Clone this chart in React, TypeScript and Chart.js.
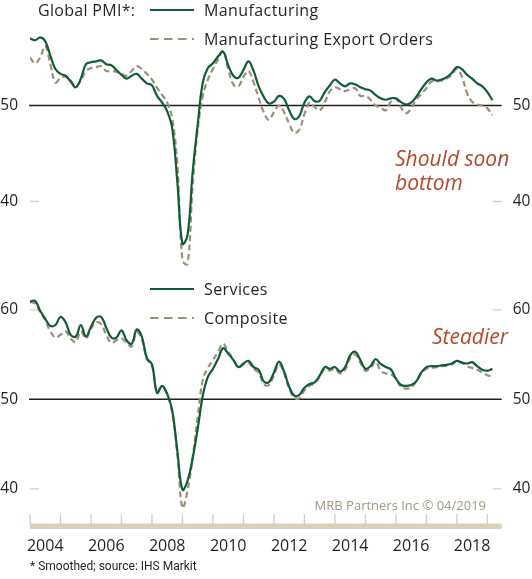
import React, { useEffect, useRef } from "react";
import { Chart, registerables } from "chart.js";

Chart.register(...registerables);

// Bimonthly observations starting January 2004 (last point: March 2019)
const FIRST_YEAR = 2004;
const MONTH_STEP = 2;

const MANUFACTURING = [
  57.0, 56.8, 57.1, 56.7, 55.2, 53.8, 53.3, 53.1, 52.5, 51.9,
  52.8, 54.3, 54.5, 54.6, 54.7, 54.3, 54.2, 53.7, 53.2, 52.8,
  53.1, 53.3, 52.8, 52.3, 52.1, 51.0, 50.3, 49.4, 47.6, 42.0,
  35.6, 36.5, 43.0, 48.0, 52.4, 53.9, 54.4, 55.1, 55.6, 54.2,
  53.1, 52.9, 53.7, 54.6, 53.6, 52.0, 50.9, 50.2, 50.4, 51.0,
  50.7, 49.5, 48.6, 48.9, 50.3, 50.95, 50.45, 50.5, 51.4, 52.1,
  52.7, 52.3, 52.0, 52.3, 52.2, 51.9, 51.7, 51.55, 51.1, 50.75,
  50.6, 50.75, 50.75, 50.35, 50.1, 50.3, 50.9, 51.7, 52.4, 52.8,
  52.6, 52.7, 52.95, 53.4, 54.0, 53.8, 53.2, 52.8, 52.3, 52.0,
  51.4, 50.55,
];

const EXPORT_ORDERS = [
  55.0, 54.4, 55.0, 56.2, 54.3, 52.4, 52.9, 53.0, 52.6, 52.0,
  52.6, 53.6, 53.9, 54.0, 54.1, 53.6, 53.6, 53.5, 53.3, 53.1,
  53.6, 54.1, 53.8, 53.3, 52.7, 51.85, 51.1, 50.3, 48.6, 43.8,
  33.9, 33.5, 41.6, 47.5, 51.0, 52.7, 53.8, 54.8, 55.7, 53.8,
  52.2, 52.0, 53.0, 53.6, 52.4, 50.8, 49.3, 48.5, 49.3, 50.0,
  49.3, 48.1, 47.15, 47.5, 49.1, 50.3, 49.85, 49.5, 50.3, 51.5,
  51.9, 51.7, 51.5, 51.7, 51.8, 51.0, 51.0, 50.6, 50.0, 49.8,
  49.5, 50.4, 50.7, 49.8, 49.2, 49.7, 50.6, 51.2, 51.8, 52.5,
  52.5, 52.6, 52.8, 53.2, 53.8, 53.0, 51.3, 50.4, 50.1, 50.0,
  49.7, 49.0,
];

const SERVICES = [
  60.9, 61.0, 59.9, 59.0, 58.2, 58.3, 59.2, 58.6, 57.2, 57.0,
  58.3, 57.0, 58.1, 59.1, 59.2, 58.0, 56.9, 56.9, 57.7, 56.6,
  56.2, 57.8, 57.0, 54.6, 53.9, 50.7, 51.5, 50.6, 48.7, 44.2,
  39.9, 40.9, 43.4, 46.7, 50.4, 52.5, 53.4, 54.5, 55.7, 55.1,
  54.4, 53.6, 54.0, 54.3, 53.6, 53.3, 52.0, 51.9, 53.0, 54.2,
  53.1, 51.4, 50.4, 50.5, 51.3, 51.7, 51.9, 52.65, 53.6, 53.4,
  53.6, 53.1, 53.6, 54.9, 55.3, 54.4, 53.4, 53.7, 54.5, 53.95,
  53.6, 53.35, 52.3, 51.6, 51.5, 51.6, 52.0, 53.0, 53.6, 53.7,
  53.7, 53.8, 53.85, 54.0, 54.3, 54.1, 54.0, 54.15, 53.7, 53.3,
  53.2, 53.4,
];

const COMPOSITE = [
  60.9, 60.7, 59.8, 58.8, 57.6, 56.9, 57.2, 57.6, 56.8, 56.4,
  57.6, 56.8, 57.9, 58.6, 58.4, 57.2, 56.3, 56.6, 56.8, 56.3,
  55.9, 57.5, 56.7, 54.5, 53.8, 50.8, 51.4, 50.5, 48.5, 43.8,
  37.9, 39.8, 43.5, 48.0, 52.2, 53.5, 54.4, 55.3, 56.2, 55.3,
  54.5, 53.6, 53.9, 54.1, 53.4, 53.0, 51.7, 51.6, 52.7, 53.9,
  52.9, 51.2, 50.2, 50.1, 51.0, 51.5, 51.8, 52.5, 53.4, 53.2,
  53.4, 52.9, 53.3, 54.6, 55.0, 54.1, 53.2, 53.5, 54.2, 53.2,
  52.9, 52.8, 52.3, 51.4, 51.2, 51.3, 52.0, 52.9, 53.4, 53.5,
  53.6, 53.7, 53.75, 53.9, 54.2, 54.1, 53.7, 53.5, 53.3, 53.0,
  52.7, 52.5,
];

const YEAR_LABELS = [2004, 2006, 2008, 2010, 2012, 2014, 2016, 2018];
const YEAR_TICKS = [2004, 2005, 2006, 2007, 2008, 2009, 2010, 2011, 2012, 2013, 2014, 2015, 2016, 2017, 2018, 2019];
const TOP_TICKS = [40, 50];
const BOTTOM_TICKS = [40, 50, 60];
const REFERENCE = 50;

const DATES = MANUFACTURING.map((_, i) => FIRST_YEAR + (i * MONTH_STEP) / 12);

const GREEN = "#0f5d37";
const TAN = "#9c8f75";
const BAND = "#d8d1bf";
const INK = "#231f20";
const ACCENT = "#b5482b";
const FONT = '"Open Sans", sans-serif';

const toPoints = (values: number[]) => values.map((y, i) => ({ x: DATES[i], y }));

const panelPlugin = {
  id: "panels",
  beforeDatasetsDraw(chart: any) {
    const { ctx, chartArea } = chart;
    const { left, right, bottom } = chartArea;
    const xs = chart.scales.x;
    ctx.save();
    // x-axis band with yearly ticks
    ctx.fillStyle = BAND;
    ctx.fillRect(left, bottom - 5.5, right - left, 5.5);
    ctx.strokeStyle = BAND;
    ctx.lineWidth = 1.4;
    YEAR_TICKS.forEach((yr) => {
      const px = xs.getPixelForValue(yr);
      ctx.beginPath();
      ctx.moveTo(px, bottom - 15);
      ctx.lineTo(px, bottom - 5);
      ctx.stroke();
    });
    const panels: [string, number[]][] = [
      ["yTop", TOP_TICKS],
      ["yBot", BOTTOM_TICKS],
    ];
    ctx.font = `15.5px ${FONT}`;
    ctx.textBaseline = "middle";
    panels.forEach(([id, ticks]) => {
      const s = chart.scales[id];
      ticks.forEach((v) => {
        const py = s.getPixelForValue(v);
        if (v === REFERENCE) {
          ctx.strokeStyle = INK;
          ctx.lineWidth = 1.6;
          ctx.beginPath();
          ctx.moveTo(left - 1, py);
          ctx.lineTo(right, py);
          ctx.stroke();
        } else {
          ctx.strokeStyle = BAND;
          ctx.lineWidth = 1.3;
          ctx.beginPath();
          ctx.moveTo(left, py);
          ctx.lineTo(left + 9, py);
          ctx.moveTo(right - 9, py);
          ctx.lineTo(right, py);
          ctx.stroke();
        }
        ctx.fillStyle = INK;
        ctx.textAlign = "right";
        ctx.fillText(String(v), left - 12, py);
        ctx.textAlign = "left";
        ctx.fillText(String(v), right + 11, py);
      });
    });
    ctx.restore();
  },
};

function LegendLine({ top, dashed }: { top: number; dashed?: boolean }) {
  return (
    <svg
      width={44}
      height={6}
      style={{ position: "absolute", left: 150, top: top - 3 }}
    >
      <line
        x1={0}
        y1={3}
        x2={44}
        y2={3}
        stroke={dashed ? TAN : GREEN}
        strokeWidth={2.2}
        strokeDasharray={dashed ? "8.5 5.5" : undefined}
      />
    </svg>
  );
}

function Label({
  text,
  center,
  left,
  right,
  size = 16,
  color = INK,
  italic,
  family = FONT,
  spacing = 0,
}: {
  text: string;
  center: number;
  left?: number;
  right?: number;
  size?: number;
  color?: string;
  italic?: boolean;
  family?: string;
  spacing?: number;
}) {
  return (
    <div
      style={{
        position: "absolute",
        top: center - 12,
        left,
        right: right !== undefined ? 532 - right : undefined,
        lineHeight: "24px",
        fontSize: size,
        fontFamily: family,
        fontStyle: italic ? "italic" : "normal",
        letterSpacing: spacing,
        color,
        whiteSpace: "nowrap",
      }}
    >
      {text}
    </div>
  );
}

export default function App() {
  const ref = useRef<HTMLCanvasElement>(null);

  useEffect(() => {
    if (!ref.current) return;
    const chart = new Chart(ref.current, {
      type: "line",
      data: {
        datasets: [
          {
            label: "Manufacturing",
            data: toPoints(MANUFACTURING),
            yAxisID: "yTop",
            borderColor: GREEN,
            borderWidth: 2.2,
            pointRadius: 0,
            tension: 0.4,
            order: 1,
          },
          {
            label: "Manufacturing Export Orders",
            data: toPoints(EXPORT_ORDERS),
            yAxisID: "yTop",
            borderColor: TAN,
            borderWidth: 2.2,
            borderDash: [6, 3.5],
            pointRadius: 0,
            tension: 0.4,
            order: 2,
          },
          {
            label: "Services",
            data: toPoints(SERVICES),
            yAxisID: "yBot",
            borderColor: GREEN,
            borderWidth: 2.2,
            pointRadius: 0,
            tension: 0.4,
            order: 1,
          },
          {
            label: "Composite",
            data: toPoints(COMPOSITE),
            yAxisID: "yBot",
            borderColor: TAN,
            borderWidth: 2.2,
            borderDash: [6, 3.5],
            pointRadius: 0,
            tension: 0.4,
            order: 2,
          },
        ],
      },
      options: {
        animation: false,
        responsive: false,
        layout: { padding: { left: 30, right: 30.3, top: 0, bottom: 0 } },
        plugins: { legend: { display: false }, tooltip: { enabled: false } },
        scales: {
          x: {
            type: "linear",
            min: 2004,
            max: 2019.47,
            afterBuildTicks: (s: any) => {
              s.ticks = YEAR_LABELS.map((y) => ({ value: y + 0.5 }));
            },
            afterFit: (s: any) => {
              s.height = 50;
            },
            ticks: {
              autoSkip: false,
              maxRotation: 0,
              padding: 8,
              color: INK,
              font: { family: FONT, size: 16 },
              callback: (v: any) => String(Math.floor(Number(v))),
            },
            grid: { display: false, drawTicks: false },
            border: { display: false },
          },
          yTop: {
            type: "linear",
            display: false,
            min: 5.89,
            max: 60.99,
          },
          yBot: {
            type: "linear",
            display: false,
            min: 35.51,
            max: 94.61,
          },
        },
      },
      plugins: [panelPlugin],
    } as any);
    return () => chart.destroy();
  }, []);

  return (
    <div
      style={{
        position: "absolute",
        left: 0,
        top: 0,
        width: 532,
        height: 579,
        background: "#ffffff",
        overflow: "hidden",
      }}
    >
      <canvas
        ref={ref}
        width={532}
        height={579}
        style={{ position: "absolute", left: 0, top: 0, width: 532, height: 579 }}
      />
      <Label text="Global PMI*:" left={38} center={10} spacing={0.3} />
      <LegendLine top={10} />
      <Label text="Manufacturing" left={204} center={10} spacing={0.4} />
      <LegendLine top={39} dashed />
      <Label text="Manufacturing Export Orders" left={204} center={39} spacing={0.4} />
      <LegendLine top={289} />
      <Label text="Services" left={204} center={289} spacing={0.4} />
      <LegendLine top={318} dashed />
      <Label text="Composite" left={204} center={318} spacing={0.4} />
      <Label text="Should soon" left={395} center={158} size={21} color={ACCENT} italic />
      <Label text="bottom" left={395} center={182} size={21} color={ACCENT} italic />
      <Label text="Steadier" right={508} center={336} size={21} color={ACCENT} italic />
      <Label text="MRB Partners Inc © 04/2019" right={486} center={505} size={13} color="#a0977f" />
      <Label
        text="* Smoothed; source: IHS Markit"
        left={30}
        center={566}
        size={12}
        family="Roboto, sans-serif"
      />
    </div>
  );
}
